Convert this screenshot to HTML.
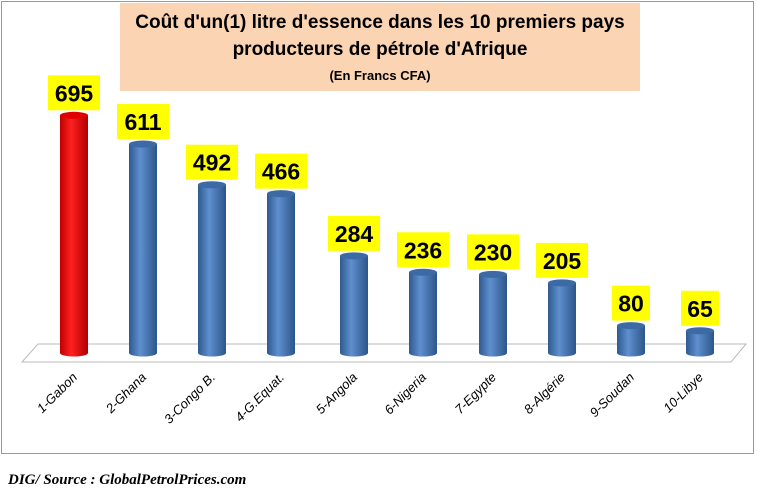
<!DOCTYPE html>
<html><head><meta charset="utf-8"><style>
body{margin:0;width:757px;height:488px;background:#fff;overflow:hidden;font-family:"Liberation Sans",sans-serif}
</style></head><body>
<svg width="757" height="488" xmlns="http://www.w3.org/2000/svg">
<defs>
<linearGradient id="b" x1="0" x2="1"><stop offset="0" stop-color="#2f5a8f"/><stop offset=".4" stop-color="#5f8fcf"/><stop offset="1" stop-color="#2c5589"/></linearGradient>
<linearGradient id="r" x1="0" x2="1"><stop offset="0" stop-color="#c00000"/><stop offset=".4" stop-color="#ff2020"/><stop offset="1" stop-color="#b00000"/></linearGradient>
</defs>
<rect x="1.5" y="1.5" width="752" height="452" fill="#fff" stroke="#999"/>
<rect x="120" y="3" width="520" height="88" fill="#fbd4b4"/>
<text x="380" y="28" text-anchor="middle" font-size="19" font-weight="bold">Coût d'un(1) litre d'essence dans les 10 premiers pays</text>
<text x="380" y="55" text-anchor="middle" font-size="19" font-weight="bold">producteurs de pétrole d'Afrique</text>
<text x="380" y="80" text-anchor="middle" font-size="13" font-weight="bold">(En Francs CFA)</text>
<polygon points="22,362 38,344 746,344 731,362" fill="#fff" stroke="#bbb"/>
<g id="bars"></g>
<text x="8" y="484" font-family="Liberation Serif" font-style="italic" font-weight="bold" font-size="15">DIG/ Source : GlobalPetrolPrices.com</text>
</svg>
<script>
var d=[["1-Gabon",695],["2-Ghana",611],["3-Congo B.",492],["4-G.Equat.",466],["5-Angola",284],["6-Nigeria",236],["7-Egypte",230],["8-Algérie",205],["9-Soudan",80],["10-Libye",65]];
var cx=[74,143,212,281,354,423,493,562,631,700];var s="";
d.forEach(function(e,i){var x=cx[i],top=353-e[1]*0.342,f=i?"url(#b)":"url(#r)",c=i?"#3d6aa5":"#e00000";
s+='<rect x="'+(x-14)+'" y="'+top+'" width="28" height="'+(353-top)+'" fill="'+f+'"/>';
s+='<ellipse cx="'+x+'" cy="353" rx="14" ry="3.5" fill="'+f+'"/>';
s+='<ellipse cx="'+x+'" cy="'+top+'" rx="14" ry="3.5" fill="'+c+'"/>';
var w=String(e[1]).length*14+10;
s+='<rect x="'+(x-w/2)+'" y="'+(top-40)+'" width="'+w+'" height="35" fill="#ffff00"/>';
s+='<text x="'+x+'" y="'+(top-14)+'" text-anchor="middle" font-size="23" font-weight="bold">'+e[1]+'</text>';
s+='<text transform="translate('+(x+4)+',378) rotate(-45)" text-anchor="end" font-size="13" font-style="italic">'+e[0]+'</text>';});
document.getElementById("bars").innerHTML=s;
</script>
</body></html>
